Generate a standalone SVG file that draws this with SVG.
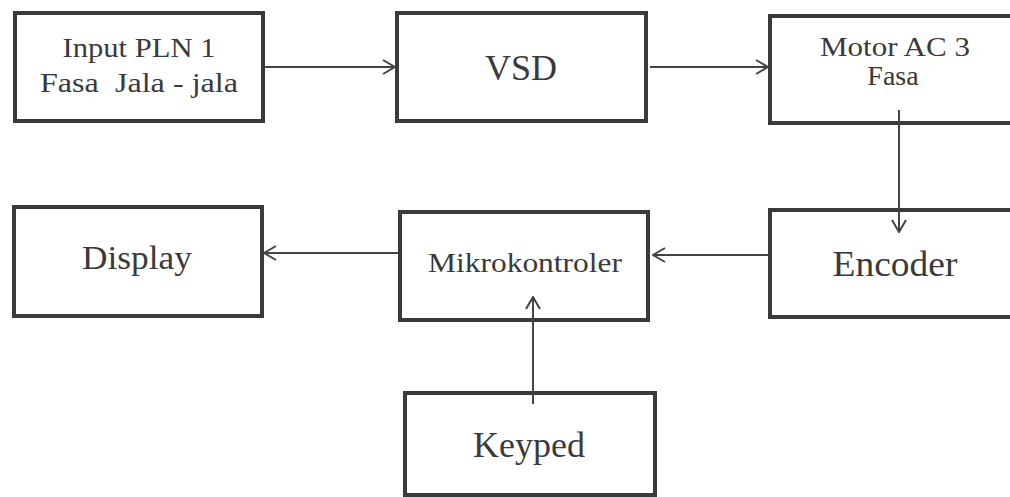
<svg xmlns="http://www.w3.org/2000/svg" width="1010" height="497" viewBox="0 0 1010 497">
<style>
.box{fill:#fff;stroke:#3a3a3a;stroke-width:4}
.t{font-family:"Liberation Serif","Times New Roman",serif;fill:#3a3a3a;text-anchor:middle}
.c{stroke:#444;stroke-width:2;fill:none}
</style>
<defs>
<marker id="ah" viewBox="0 0 14 16" refX="13" refY="8" markerWidth="14" markerHeight="16" markerUnits="userSpaceOnUse" orient="auto">
<path d="M1,1 L13,8 L1,15" fill="none" stroke="#444" stroke-width="2"/>
</marker>
</defs>
<rect width="1010" height="497" fill="#fff"/>
<g id="input"><rect class="box" x="15" y="13" width="248" height="108"/>
<text class="t" x="139" y="57" font-size="28" textLength="153" lengthAdjust="spacingAndGlyphs">Input PLN 1</text>
<text class="t" x="139" y="92" font-size="28" textLength="198" lengthAdjust="spacingAndGlyphs" xml:space="preserve">Fasa  Jala - jala</text></g>
<g id="vsd"><rect class="box" x="397" y="13" width="249" height="108"/>
<text class="t" x="521" y="80" font-size="36" textLength="72" lengthAdjust="spacingAndGlyphs">VSD</text></g>
<g id="motor"><rect class="box" x="770" y="16" width="245" height="107"/>
<text class="t" x="895" y="56" font-size="28" textLength="150" lengthAdjust="spacingAndGlyphs">Motor AC 3</text>
<text class="t" x="893" y="85" font-size="28">Fasa</text></g>
<g id="encoder"><rect class="box" x="770" y="210" width="245" height="107"/>
<text class="t" x="895" y="276" font-size="36" textLength="125" lengthAdjust="spacingAndGlyphs">Encoder</text></g>
<g id="mikrokontroler"><rect class="box" x="400" y="212" width="248" height="108"/>
<text class="t" x="525" y="272" font-size="27" textLength="194" lengthAdjust="spacingAndGlyphs">Mikrokontroler</text></g>
<g id="display"><rect class="box" x="14" y="207" width="248" height="109"/>
<text class="t" x="137" y="269" font-size="34" textLength="110" lengthAdjust="spacingAndGlyphs">Display</text></g>
<g id="keyped"><rect class="box" x="405" y="393" width="250" height="102"/>
<text class="t" x="529" y="457" font-size="36" textLength="112" lengthAdjust="spacingAndGlyphs">Keyped</text></g>
<g id="connectors">
<line class="c" x1="265" y1="67" x2="395" y2="67" marker-end="url(#ah)"/>
<line class="c" x1="650" y1="67" x2="768" y2="67" marker-end="url(#ah)"/>
<line class="c" x1="899" y1="110" x2="899" y2="232" marker-end="url(#ah)"/>
<line class="c" x1="768" y1="255" x2="653" y2="255" marker-end="url(#ah)"/>
<line class="c" x1="398" y1="253" x2="264" y2="253" marker-end="url(#ah)"/>
<line class="c" x1="533" y1="404" x2="533" y2="297" marker-end="url(#ah)"/>
</g>
</svg>
